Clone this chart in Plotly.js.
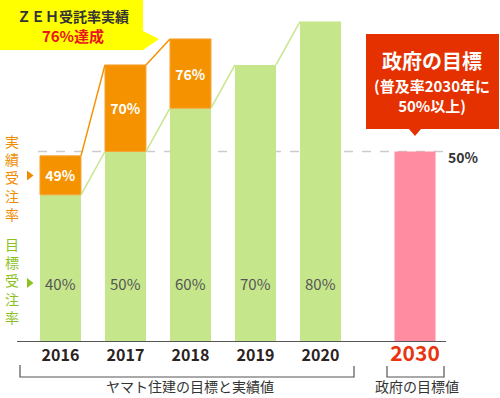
<!DOCTYPE html>
<html><head><meta charset="utf-8">
<script src="https://cdn.plot.ly/plotly-3.0.1.min.js"></script>
<style>html,body{margin:0;padding:0;background:#fff;}#chart{width:500px;height:398px;}</style>
</head><body><div id="chart"></div>
<script>
// ---- data ----
const years = ['2016', '2017', '2018', '2019', '2020'];
const targetVals = [40, 50, 60, 70, 80];
const targetLabels = ['40%', '50%', '60%', '70%', '80%'];
const actualVals = [49, 70, 76];
const actualLabels = ['49%', '70%', '76%'];
const govYear = '2030';
const govVal = 50;
const govLabel = '50%';

// ---- layout helpers ----
const L = 17, T = 0, W = 429, H = 341;
const fx = X => (X - L) / W;
const fy = Y => 1 - (Y - T) / H;
const barW = 0.631, hw = barW / 2;
const govSlot = years.length + 0.454;
const xs = years.map((_, i) => i);

const GREEN = '#c6e68c', ORANGE = '#f59200', PINK = '#ff8ca0';
const FONT = '"Noto Sans CJK JP", "Noto Sans", sans-serif';

function connectors(vals) {
  const x = [], y = [];
  for (let i = 0; i < vals.length - 1; i++) {
    x.push(i + hw, i + 1 - hw, null);
    y.push(vals[i], vals[i + 1], null);
  }
  return {x, y};
}
const gc = connectors(targetVals), oc = connectors(actualVals);

const traces = [
  {type: 'bar', x: xs, y: targetVals, width: barW, marker: {color: GREEN}, hoverinfo: 'skip'},
  {type: 'bar', x: xs.slice(0, actualVals.length), base: targetVals.slice(0, actualVals.length),
   y: actualVals.map((v, i) => v - targetVals[i]), width: barW,
   marker: {color: ORANGE, line: {color: '#f7a43a', width: 1}},
   text: actualLabels, textposition: 'inside', insidetextanchor: 'middle', textangle: 0,
   insidetextfont: {color: '#fff', size: 14, family: FONT, weight: 'bold'}, hoverinfo: 'skip'},
  {type: 'bar', x: [govSlot], y: [govVal], width: barW, marker: {color: PINK}, hoverinfo: 'skip'},
  {type: 'scatter', mode: 'lines', x: gc.x, y: gc.y, line: {color: GREEN, width: 1.5}, hoverinfo: 'skip', connectgaps: false},
  {type: 'scatter', mode: 'lines', x: oc.x, y: oc.y, line: {color: ORANGE, width: 1.5}, hoverinfo: 'skip', connectgaps: false}
];

const annotations = [];
function note(X, Y, text, font, yanchor) {
  annotations.push({x: fx(X), y: fy(Y), xref: 'paper', yref: 'paper', text, showarrow: false,
    xanchor: 'center', yanchor: yanchor || 'middle', font: Object.assign({family: FONT}, font)});
}
// target labels inside green bars
targetLabels.forEach((t, i) => annotations.push({
  x: i, y: 19.6, xref: 'x', yref: 'y', text: t, showarrow: false, xanchor: 'center', yanchor: 'middle',
  font: {size: 15, color: '#555', family: FONT}
}));
note(464, 157, govLabel, {size: 14, color: '#333', weight: 'bold'});
note(12, 177, '実績受注率'.split('').join('<br>'), {size: 14, color: '#f08c00'});
note(12, 280, '目標受注率'.split('').join('<br>'), {size: 14, color: '#8cc21f'});
note(73, 25.5, '<span style="color:#333;font-size:14px">ＺＥＨ受託率実績</span><br>76%達成',
  {size: 15, color: '#e8141e', weight: 'bold'});
note(432, 60, '政府の目標', {size: 20, color: '#fff', weight: 'bold'});
note(432, 96, '(普及率2030年に<br>50%以上)', {size: 15, color: '#fff', weight: 'bold'});
note(190, 398, 'ヤマト住建の目標と実績値', {size: 14, color: '#333'}, 'bottom');
note(417, 398, '政府の目標値', {size: 14, color: '#333'}, 'bottom');

function path(pts, close) {
  return pts.map((p, i) => (i ? 'L' : 'M') + fx(p[0]).toFixed(5) + ',' + fy(p[1]).toFixed(5)).join(' ') + (close ? ' Z' : '');
}

const shapes = [
  {type: 'line', xref: 'paper', yref: 'y', x0: fx(38), x1: fx(444), y0: govVal, y1: govVal, layer: 'below',
   line: {color: '#cccccc', width: 1.5, dash: 'dash'}},
  {type: 'path', xref: 'paper', yref: 'paper', path: path([[27, 170.5], [33.5, 175.5], [27, 180.5]], true),
   fillcolor: '#f08c00', line: {width: 0}},
  {type: 'path', xref: 'paper', yref: 'paper', path: path([[27, 278], [33.5, 283], [27, 288]], true),
   fillcolor: '#8cc21f', line: {width: 0}},
  {type: 'path', xref: 'paper', yref: 'paper',
   path: path([[0, 0], [143, 0], [143, 31], [159, 39], [143, 50], [0, 50]], true),
   fillcolor: '#ffff00', line: {width: 0}},
  {type: 'path', xref: 'paper', yref: 'paper',
   path: path([[366, 34], [499, 34], [499, 129], [421, 129], [415, 136], [409, 129], [366, 129]], true),
   fillcolor: '#e53000', line: {width: 0}},
  {type: 'path', xref: 'paper', yref: 'paper', path: path([[20, 365], [20, 377], [354, 377], [354, 366]], false),
   line: {color: '#555', width: 1.2}},
  {type: 'path', xref: 'paper', yref: 'paper', path: path([[387, 366], [387, 377], [444, 377], [444, 366]], false),
   line: {color: '#555', width: 1.2}}
];

const layout = {
  width: 500, height: 398,
  margin: {l: L, r: 500 - L - W, t: T, b: 398 - T - H, pad: 0},
  paper_bgcolor: '#fff', plot_bgcolor: 'rgba(0,0,0,0)',
  showlegend: false, barmode: 'overlay', hovermode: false,
  xaxis: {range: [-0.669, 5.931], tickvals: xs.concat([govSlot]),
    ticktext: years.concat(['<span style="color:#e8340f;font-size:21px">' + govYear + '</span>']),
    tickfont: {size: 16, color: '#2b2222', family: FONT, weight: 'bold'},
    showline: true, linecolor: '#555', linewidth: 1, ticks: '', showgrid: false, zeroline: false, fixedrange: true},
  yaxis: {range: [6.236, 84.99], visible: false, showgrid: false, zeroline: false, fixedrange: true},
  annotations, shapes
};

Plotly.newPlot('chart', traces, layout, {staticPlot: true, displayModeBar: false});
</script></body></html>
